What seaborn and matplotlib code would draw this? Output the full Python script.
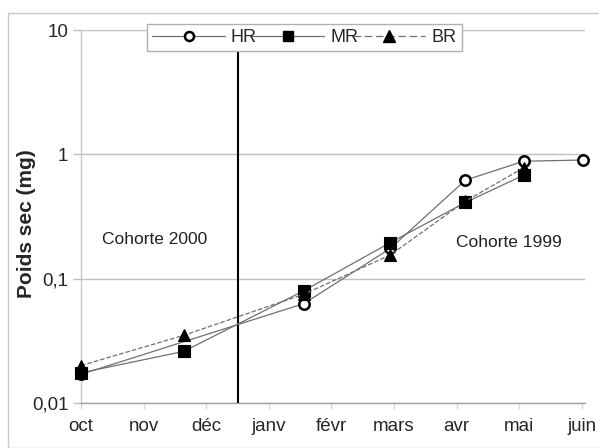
import numpy as np
import pandas as pd
import matplotlib
matplotlib.use("Agg")
import matplotlib.pyplot as plt
from matplotlib.lines import Line2D
from matplotlib.patches import Rectangle
import seaborn as sns

months = ["oct", "nov", "déc", "janv", "févr", "mars", "avr", "mai", "juin"]

hr_x = [0.0, 3.56, 4.94, 6.14, 7.07, 8.02]
hr_y = [0.017, 0.063, 0.175, 0.62, 0.88, 0.90]
mr_x = [0.0, 1.64, 3.56, 4.94, 6.14, 7.07]
mr_y = [0.0175, 0.026, 0.080, 0.195, 0.41, 0.68]
br_x = [0.0, 1.64, 3.56, 4.94, 6.14, 7.07]
br_y = [0.020, 0.035, 0.075, 0.155, 0.42, 0.78]

sns.set_theme(style="white")
plt.rcParams["font.family"] = ["Liberation Sans", "DejaVu Sans"]

fig = plt.figure(figsize=(5.99, 4.48), dpi=100)
ax = fig.add_axes([81/599, 1-403/448, 504/599, 373/448])

fig.patches.append(Rectangle((8/599, 0.0), 1.0, 1-13/448, transform=fig.transFigure,
                             fill=False, edgecolor="#c8c8c8", lw=1.0, zorder=0))

line_col = "#707070"
series = [
    ("HR", hr_x, hr_y, "o", "white", "-"),
    ("MR", mr_x, mr_y, "s", "black", "-"),
    ("BR", br_x, br_y, "^", "black", "--"),
]
for name, xs, ys, mk, fc, ls in series:
    df = pd.DataFrame({"x": xs, "y": ys})
    sns.lineplot(data=df, x="x", y="y", ax=ax, color=line_col, lw=0.9,
                 linestyle=ls, marker=mk, markersize=8.5 if mk != "o" else 7.5,
                 markerfacecolor=fc, markeredgecolor="black",
                 markeredgewidth=1.8 if mk == "o" else 0.8,
                 clip_on=False, zorder=4,
                 **({"dashes": (6, 3)} if ls == "--" else {}))

ax.set_yscale("log")
ax.set_ylim(0.01, 10)
ax.set_xlim(0, 8.05)

ax.axvline(2.5, color="black", lw=1.5, zorder=3)

ax.set_yticks([0.01, 0.1, 1, 10])
ax.set_yticklabels(["0,01", "0,1", "1", "10"], fontsize=13.5)
ax.yaxis.set_minor_locator(matplotlib.ticker.NullLocator())
ax.set_xticks(range(len(months)))
ax.set_xticklabels(months, fontsize=13.5)
ax.tick_params(axis="y", length=6, color="#c0c0c0", width=1, pad=3, direction="out", left=True)
ax.tick_params(axis="x", length=4, color="#d8d8d8", width=1, pad=7, bottom=True)
ax.grid(axis="y", color="#c0c0c0", lw=1.0)
ax.grid(axis="x", visible=False)
for s in ["top", "right"]:
    ax.spines[s].set_visible(False)
ax.spines["left"].set_color("#c8c8c8")
ax.spines["bottom"].set_color("#a0a0a0")
ax.spines["left"].set_linewidth(1.0)
ax.spines["bottom"].set_linewidth(1.0)

ax.set_xlabel("")
ax.set_ylabel("Poids sec (mg)", fontsize=15, fontweight="bold")
ax.yaxis.set_label_coords(-0.089, 0.48)

ax.text(1.18, 0.205, "Cohorte 2000", fontsize=12.5, ha="center", va="center", color="#222222")
ax.text(6.84, 0.196, "Cohorte 1999", fontsize=12.5, ha="center", va="center", color="#222222")

handles = [
    Line2D([], [], color=line_col, lw=0.9, ls="-", marker="o", markerfacecolor="white",
           markeredgecolor="black", markeredgewidth=1.8, markersize=6.5),
    Line2D([], [], color=line_col, lw=0.9, ls="-", marker="s", markerfacecolor="black",
           markeredgecolor="black", markersize=7),
    Line2D([], [], color=line_col, lw=0.9, ls=(0, (6, 3)), marker="^", markerfacecolor="black",
           markeredgecolor="black", markersize=8),
]
leg = ax.legend(handles, ["HR", "MR", "BR"], ncol=3, loc="center",
                bbox_to_anchor=(0.131, 0.914, 0.625, 0.132), mode="expand",
                borderaxespad=0, borderpad=0.3, frameon=True, fancybox=False, framealpha=1,
                edgecolor="#b0b0b0", fontsize=13, handlelength=4.0,
                handletextpad=0.35, columnspacing=0.3)
leg.get_frame().set_linewidth(1.0)
leg.set_zorder(10)

fig.savefig("out.png", dpi=100)
